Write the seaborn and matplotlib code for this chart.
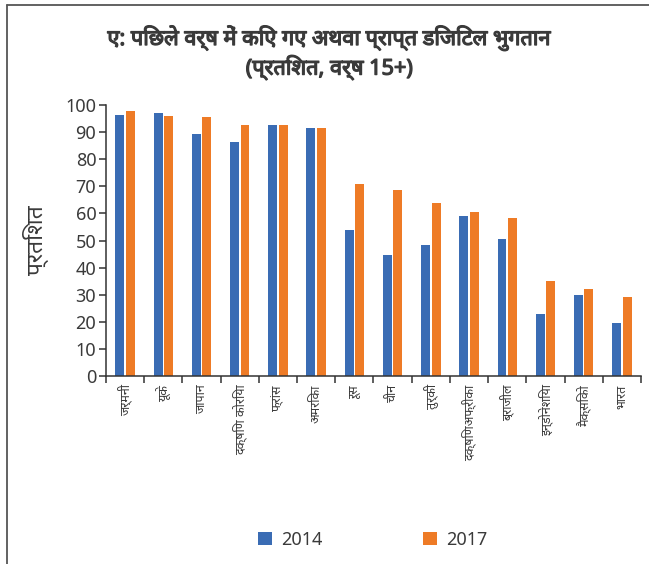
import matplotlib
matplotlib.use("Agg")
import matplotlib.pyplot as plt
import matplotlib.patheffects as pe
from matplotlib import font_manager
from matplotlib.ft2font import FT2Font
from matplotlib.lines import Line2D
from matplotlib.patches import Patch
import seaborn as sns
import pandas as pd

# Data: share of adults (15+) who made or received a digital payment in the past year
countries = ["जर्मनी", "यूके", "जापान", "दक्षिण कोरिया", "फ्रांस", "अमरिका", "रूस",
             "चीन", "तुर्की", "दक्षिणअफ्रीका", "ब्राजील", "इन्डोनेशिया", "मैक्सिको", "भारत"]
years = ["2014", "2017"]
values_2014 = [96.3, 97.0, 89.3, 86.2, 92.5, 91.7, 53.7, 44.5, 48.3, 59.1, 50.6, 22.8, 29.8, 19.6]
values_2017 = [97.9, 96.0, 95.6, 92.5, 92.5, 91.6, 70.7, 68.5, 63.8, 60.6, 58.4, 35.1, 32.1, 29.0]
yticks = list(range(0, 101, 10))

title_line1 = "ए: पिछले वर्ष में किए गए अथवा प्राप्त डिजिटल भुगतान"
title_line2 = "(प्रतिशत, वर्ष 15+)"
ylabel = "प्रतिशत"

BLUE = "#3A6CB4"
ORANGE = "#EE7B26"
TEXT = "#3a3a3a"


def devanagari_family():
    """Pick an installed family with Devanagari glyphs, preferring proportional sans faces."""
    found = []
    for f in font_manager.fontManager.ttflist:
        try:
            if 0x0915 in FT2Font(f.fname).get_charmap():
                found.append(f.name)
        except Exception:
            continue
    if not found:
        return None

    def rank(name):
        n = name.lower()
        return (("mono" in n) * 2 + ("serif" in n) * 1 - ("sans" in n) * 1, n)

    return sorted(set(found), key=rank)[0]


sns.set_theme(style="white")
deva = devanagari_family()
families = ["Noto Sans"] + ([deva] if deva else []) + ["DejaVu Sans"]
plt.rcParams["font.family"] = families

df = pd.DataFrame({
    "country": countries * 2,
    "year": [years[0]] * len(countries) + [years[1]] * len(countries),
    "value": values_2014 + values_2017,
})

fig = plt.figure(figsize=(6.49, 5.64), dpi=100)
ax = fig.add_axes([0.1633, 0.3333, 0.8244, 0.4805])

sns.barplot(data=df, x="country", y="value", hue="year", palette=[BLUE, ORANGE],
            saturation=1, width=0.55, gap=0.15, linewidth=0, ax=ax, legend=False)

n = len(countries)
ax.set_xlim(-0.5, n - 0.5)
ax.set_ylim(0, 100)
ax.set_yticks(yticks)
ax.set_xticks(range(n))
ax.set_xticklabels(countries, rotation=90, fontsize=9, color=TEXT)
ax.set_xticks([i - 0.5 for i in range(n + 1)], minor=True)
ax.tick_params(axis="x", which="major", length=0, pad=6)
ax.tick_params(axis="x", which="minor", length=5, width=1.1, color="#333333", direction="out", bottom=True)
ax.tick_params(axis="y", length=5, width=1.1, color="#333333", direction="out", left=True,
               labelsize=13, labelcolor=TEXT, pad=2)
ax.set_xlabel("")
ax.set_ylabel("")

for side in ["top", "right"]:
    ax.spines[side].set_visible(False)
for side in ["left", "bottom"]:
    ax.spines[side].set_color("#333333")
    ax.spines[side].set_linewidth(1.1)

# bold title; a thin stroke of the same colour thickens faces that lack a bold weight
heavy = [pe.withStroke(linewidth=0.9, foreground=TEXT)]
t1 = fig.text(0.508, 0.933, title_line1, ha="center", va="center", fontsize=14.5,
              fontweight="bold", color=TEXT, path_effects=heavy)
t2 = fig.text(0.508, 0.880, title_line2, ha="center", va="center", fontsize=14.5,
              fontweight="bold", color=TEXT, path_effects=heavy)
yl = fig.text(0.056, 0.574, ylabel, ha="center", va="center", rotation=90, fontsize=16,
              color=TEXT)

# size the first title line to a 445 px span and the axis label to ~70 px
renderer = fig.canvas.get_renderer()
w1 = t1.get_window_extent(renderer).width
size = 14.5 * 445 / w1
t1.set_fontsize(size)
t2.set_fontsize(size)
hl = yl.get_window_extent(renderer).height
yl.set_fontsize(16 * 70 / hl)

handles = [Patch(facecolor=BLUE, edgecolor="none"), Patch(facecolor=ORANGE, edgecolor="none")]
fig.legend(handles, years, loc="center", bbox_to_anchor=(0.574, 0.0426), ncol=2,
           frameon=False, fontsize=13, handlelength=0.75, handleheight=0.75,
           handletextpad=0.5, columnspacing=5.6, labelcolor=TEXT)

# frame lines along the top and left edge of the figure
fig.add_artist(Line2D([6.5 / 649, 1.0], [1 - 5 / 564, 1 - 5 / 564], color="#555555",
                      linewidth=1.3, transform=fig.transFigure))
fig.add_artist(Line2D([6.5 / 649, 6.5 / 649], [0.0, 1 - 5 / 564], color="#555555",
                      linewidth=1.3, transform=fig.transFigure))

fig.savefig("out.png", dpi=100)
